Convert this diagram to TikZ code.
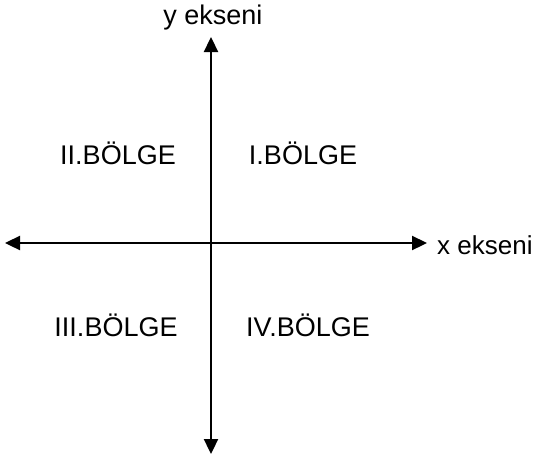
\documentclass[tikz,border=0pt]{standalone}
\usepackage{fontspec}
\setmainfont{Liberation Sans}
\usetikzlibrary{arrows.meta}
\begin{document}
\begin{tikzpicture}[x=1pt,y=-1pt,
  axis/.style={line width=2.3pt,-{Triangle[length=15pt,width=14pt]}},
  lbl/.style={font=\fontsize{27}{30}\selectfont,inner sep=0pt}]
\useasboundingbox (0,0) rectangle (533,456);
\coordinate (ytop) at (211,37);
\coordinate (ybot) at (211,454);
\coordinate (xl) at (5,243);
\coordinate (xr) at (427,243);
\coordinate (o) at (211,243);
\draw[axis] (o) -- (ytop);
\draw[axis] (o) -- (ybot);
\draw[axis] (o) -- (xl);
\draw[axis] (o) -- (xr);
\node[lbl] (yl) at (213,18) {y ekseni};
\node[lbl,anchor=west,font=\fontsize{26}{30}\selectfont] (xlab) at (437,245) {x ekseni};
\node[lbl] (q2) at (118,153) {II.BÖLGE};
\node[lbl] (q1) at (303,153) {I.BÖLGE};
\node[lbl] (q3) at (116,325) {III.BÖLGE};
\node[lbl] (q4) at (308,325) {IV.BÖLGE};
\end{tikzpicture}
\end{document}
